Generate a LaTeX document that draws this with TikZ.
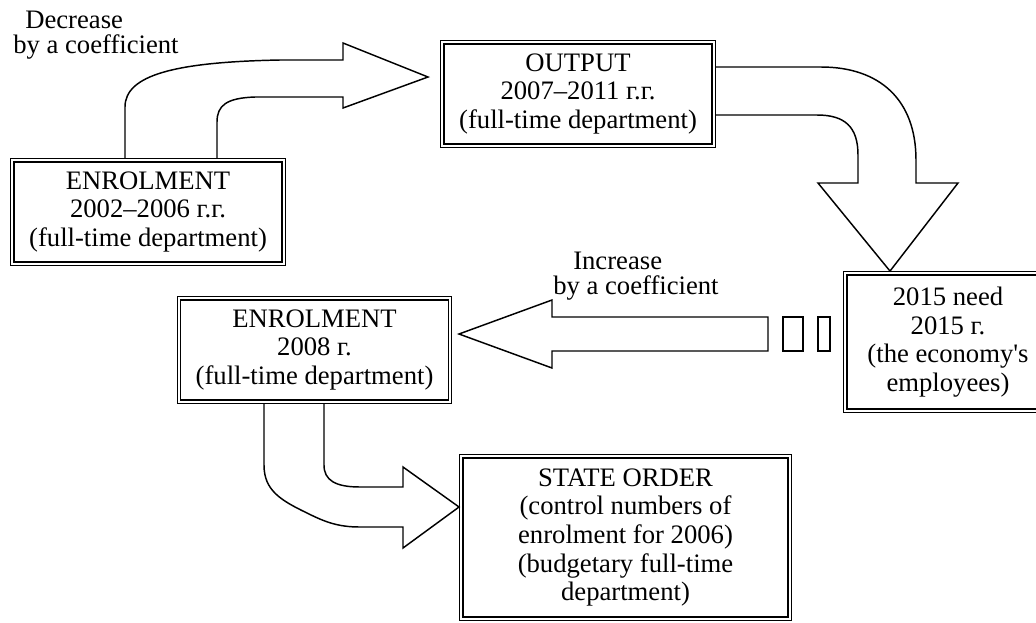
\documentclass[tikz,border=0pt]{standalone}
\usepackage{fontspec}
\setmainfont{Liberation Serif}

\begin{document}
\begin{tikzpicture}[x=0.75pt,y=0.75pt,yscale=-1,xscale=1,
  dbox/.style={draw, double, line width=0.9pt, double distance=1.6pt, outer sep=1.7pt, inner sep=0pt, align=center, font=\fontsize{20}{21.4}\selectfont},
  blockarrow/.style={line width=1.1pt, line join=miter},
  note/.style={inner sep=0pt, align=left, font=\fontsize{20}{19}\selectfont}]
\useasboundingbox (0,0) rectangle (1036,622);

% Boxes
\node [dbox, minimum width=203.5pt, minimum height=77.5pt] (enrolA) at (148,212) {ENROLMENT\\2002--2006 г.г.\\(full-time department)};
\node [dbox, minimum width=203.5pt, minimum height=77.5pt] (output) at (578,94) {OUTPUT\\2007--2011 г.г.\\(full-time department)};
\node [dbox, minimum width=154pt, minimum height=103pt] (need) at (948,342) {2015 need\\2015 г.\\(the economy\textquotesingle s\\employees)};
\node [dbox, minimum width=203pt, minimum height=77.5pt] (enrolB) at (314.5,350) {ENROLMENT\\2008 г.\\(full-time department)};
\node [dbox, minimum width=246.3pt, minimum height=121.8pt] (state) at (625.5,537.5) {STATE ORDER\\(control numbers of\\enrolment for 2006)\\(budgetary full-time\\department)};

% Text Node
\node [note, anchor=west] (decr) at (13,35) {\hspace*{9pt}Decrease\\by a coefficient};
% Text Node
\node [note, anchor=west] (incr) at (553,276) {\hspace*{15pt}Increase\\by a coefficient};

% Block arrow: enrolment -> output
\draw [blockarrow] (enrolA.north -| 125,0) -- (125,107) .. controls (125,75) and (175,62) .. (280,60) -- (343,60) -- (343,43) -- (428,77) -- (343,108) -- (343,97) -- (255,97) .. controls (227,98) and (217,105) .. (217,122) -- (enrolA.north -| 217,0);
% Block arrow: output -> need
\draw [blockarrow] (output.east |- 0,67) -- (821,67) .. controls (880,67) and (916,100) .. (916,160) -- (916,183) -- (958,183) -- (need.north -| 890,0) -- (818,183) -- (858,183) -- (858,155) .. controls (858,127) and (845,115) .. (817,115) -- (output.east |- 0,115);
% Block arrow: need -> enrolment 2008
\draw [blockarrow] (768,317) -- (552,317) -- (552,300) -- (459,334) -- (552,368) -- (552,351) -- (768,351) -- cycle;
\draw [blockarrow] (783,317) rectangle (803,351);
\draw [blockarrow] (818,317) rectangle (830,351);
% Block arrow: enrolment 2008 -> state order
\draw [blockarrow] (enrolB.south -| 264,0) -- (264,465) .. controls (264,490) and (280,500) .. (307,513) .. controls (325,522) and (338,527) .. (360,527) -- (403,527) -- (403,548) -- (state.west |- 0,507) -- (403,467) -- (403,487) -- (360,487) .. controls (335,487) and (324,480) .. (324,465) -- (enrolB.south -| 324,0);

\end{tikzpicture}
\end{document}
